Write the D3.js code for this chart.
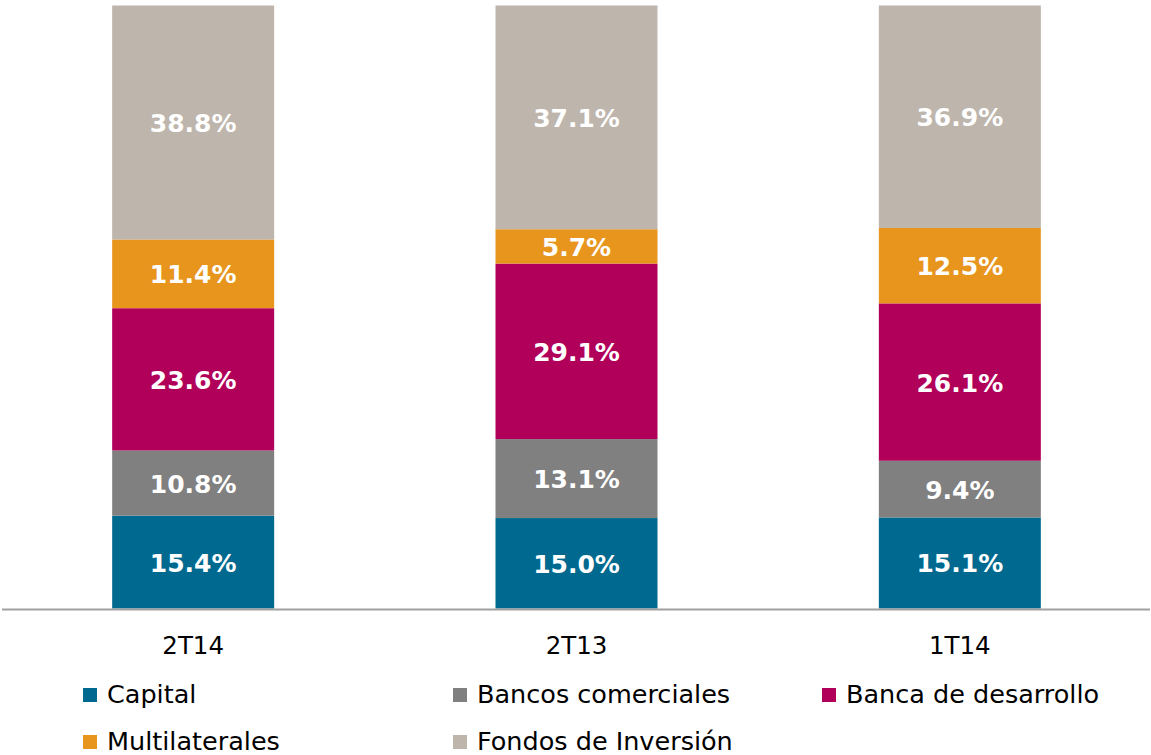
<!DOCTYPE html>
<html><head><meta charset="utf-8">
<script src="https://d3js.org/d3.v7.min.js"></script>
<style>body{margin:0;background:#fff}svg{display:block}</style>
</head><body>
<script>
const categories = ["2T14", "2T13", "1T14"];
const seriesNames = ["Capital", "Bancos comerciales", "Banca de desarrollo", "Multilaterales", "Fondos de Inversión"];
const capital = [15.4, 15.0, 15.1];
const bancosComerciales = [10.8, 13.1, 9.4];
const bancaDesarrollo = [23.6, 29.1, 26.1];
const multilaterales = [11.4, 5.7, 12.5];
const fondosInversion = [38.8, 37.1, 36.9];
const colors = ["#00698F", "#808080", "#B1005A", "#E8951E", "#BEB5AC"];

const W = 1151, H = 755;
const svg = d3.select("body").append("svg").attr("width", W).attr("height", H);
const font = "'DejaVu Sans', Verdana, sans-serif";

const seriesVals = [capital, bancosComerciales, bancaDesarrollo, multilaterales, fondosInversion];
const rows = categories.map((c, i) => {
  const r = {cat: c};
  seriesNames.forEach((s, j) => r[s] = seriesVals[j][i]);
  return r;
});
const stack = d3.stack().keys(seriesNames)(rows);

const p = 0.5774;
const x = d3.scaleBand().domain(categories).range([1.5, 1151.5]).paddingInner(p).paddingOuter(p / 2);
const y = d3.scaleLinear().domain([0, 100]).range([608.5, 5.5]);

const g = svg.append("g");
stack.forEach((layer, j) => {
  g.selectAll(null).data(layer).enter().append("rect")
    .attr("x", d => x(d.data.cat))
    .attr("width", x.bandwidth())
    .attr("y", d => y(d[1]))
    .attr("height", d => y(d[0]) - y(d[1]))
    .attr("fill", colors[j]);
  g.selectAll(null).data(layer).enter().append("text")
    .attr("x", d => x(d.data.cat) + x.bandwidth() / 2)
    .attr("y", d => (y(d[0]) + y(d[1])) / 2 + 9.5)
    .attr("text-anchor", "middle")
    .attr("font-family", font).attr("font-weight", "bold").attr("font-size", 25)
    .attr("fill", "#fff")
    .text(d => (d[1] - d[0]).toFixed(1) + "%");
});

// axis line
svg.append("line").attr("x1", 2).attr("x2", 1150).attr("y1", 609.5).attr("y2", 609.5)
  .attr("stroke", "#A0A0A0").attr("stroke-width", 2);

// category labels
const xAxis = d3.axisBottom(x).tickSize(0).tickPadding(0);
const ax = svg.append("g").attr("transform", "translate(0,610)").call(xAxis);
ax.select(".domain").remove();
ax.selectAll("text").attr("font-family", font).attr("font-size", 24.5).attr("fill", "#000")
  .attr("dy", null).attr("y", 44);

// legend
const legendPos = [[83, 703], [453, 703], [822, 703], [83, 750], [453, 750]];
seriesNames.forEach((s, j) => {
  const [lx, ly] = legendPos[j];
  svg.append("rect").attr("x", lx).attr("y", ly - 15).attr("width", 14).attr("height", 14).attr("fill", colors[j]);
  svg.append("text").attr("x", lx + 24).attr("y", ly).attr("font-family", font).attr("font-size", 25.5)
    .attr("fill", "#000").text(s);
});
</script>
</body></html>
